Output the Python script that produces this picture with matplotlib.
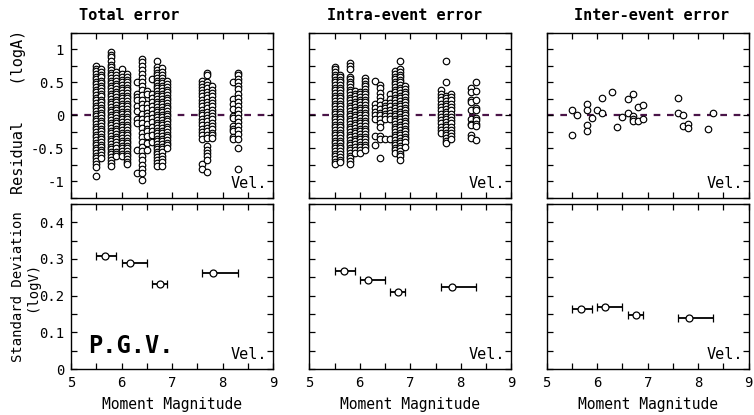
import numpy as np
import matplotlib.pyplot as plt
from matplotlib.ticker import MultipleLocator

plt.rcParams['font.family'] = ['DejaVu Sans Mono']

# event magnitudes (one column of residuals per event)
mags = [5.5, 5.6, 5.8, 5.9, 6.0, 6.1, 6.3, 6.4, 6.5, 6.6, 6.7, 6.8, 6.9, 7.6, 7.7, 7.8, 8.2, 8.3]

total_res = [
    [0.75, 0.71, 0.67, 0.63, 0.59, 0.55, 0.51, 0.47, 0.43, 0.39, 0.35, 0.31, 0.27, 0.23, 0.19, 0.15, 0.11, 0.07, 0.03,
     -0.01, -0.05, -0.09, -0.13, -0.17, -0.21, -0.25, -0.29, -0.33, -0.37, -0.41, -0.45, -0.49, -0.53, -0.57, -0.61,
     -0.65, -0.69, -0.73, -0.78, -0.91],
    [0.70, 0.66, 0.62, 0.58, 0.53, 0.49, 0.45, 0.41, 0.37, 0.33, 0.29, 0.24, 0.20, 0.16, 0.12, 0.08, 0.04, 0.0,
     -0.04, -0.08, -0.12, -0.16, -0.20, -0.24, -0.28, -0.32, -0.36, -0.40, -0.44, -0.48, -0.52, -0.56, -0.60, -0.64],
    [0.96, 0.92, 0.88, 0.82, 0.77, 0.73, 0.69, 0.65, 0.61, 0.57, 0.53, 0.49, 0.45, 0.41, 0.37, 0.33, 0.29, 0.25, 0.21,
     0.17, 0.13, 0.09, 0.05, 0.01, -0.03, -0.07, -0.11, -0.15, -0.19, -0.23, -0.27, -0.31, -0.35, -0.39, -0.43, -0.47,
     -0.51, -0.55, -0.59, -0.63, -0.67, -0.72, -0.76],
    [0.66, 0.61, 0.57, 0.52, 0.48, 0.44, 0.40, 0.36, 0.32, 0.28, 0.24, 0.20, 0.16, 0.12, 0.08, 0.04, 0.0, -0.04,
     -0.08, -0.12, -0.16, -0.20, -0.24, -0.28, -0.32, -0.36, -0.40, -0.45, -0.50, -0.55, -0.59, -0.62],
    [0.70, 0.63, 0.58, 0.54, 0.50, 0.46, 0.42, 0.38, 0.34, 0.30, 0.26, 0.22, 0.18, 0.14, 0.10, 0.06, 0.02, -0.02,
     -0.06, -0.10, -0.14, -0.18, -0.22, -0.26, -0.30, -0.34, -0.38, -0.42, -0.46, -0.50, -0.54, -0.58, -0.62],
    [0.63, 0.58, 0.54, 0.50, 0.46, 0.42, 0.38, 0.34, 0.30, 0.26, 0.22, 0.18, 0.14, 0.10, 0.06, 0.02, -0.02, -0.06,
     -0.10, -0.14, -0.18, -0.22, -0.26, -0.30, -0.34, -0.38, -0.42, -0.46, -0.50, -0.54, -0.58, -0.62, -0.66, -0.70,
     -0.74],
    [0.50, 0.32, 0.28, 0.24, 0.14, 0.07, -0.05, -0.12, -0.52, -0.87],
    [0.86, 0.81, 0.75, 0.69, 0.63, 0.57, 0.51, 0.45, 0.38, 0.31, 0.24, 0.18, 0.11, 0.03, -0.05, -0.12, -0.19, -0.26,
     -0.33, -0.40, -0.47, -0.54, -0.61, -0.68, -0.75, -0.81, -0.87, -0.98],
    [0.37, 0.32, 0.17, 0.12, 0.04, -0.01, -0.06, -0.13, -0.21, -0.24, -0.31, -0.41, -0.52],
    [0.55, 0.32, 0.26, 0.20, 0.14, 0.08, 0.02, -0.04, -0.10, -0.17, -0.23, -0.30, -0.40],
    [0.82, 0.74, 0.69, 0.65, 0.61, 0.57, 0.53, 0.49, 0.45, 0.41, 0.37, 0.33, 0.29, 0.25, 0.21, 0.17, 0.13, 0.09, 0.05,
     0.01, -0.03, -0.07, -0.11, -0.15, -0.19, -0.23, -0.27, -0.31, -0.35, -0.39, -0.43, -0.47, -0.51, -0.55, -0.59,
     -0.63, -0.67, -0.72, -0.76],
    [0.72, 0.66, 0.61, 0.57, 0.53, 0.49, 0.45, 0.41, 0.37, 0.33, 0.29, 0.25, 0.21, 0.17, 0.13, 0.09, 0.05, 0.01,
     -0.03, -0.07, -0.11, -0.15, -0.19, -0.23, -0.27, -0.31, -0.35, -0.39, -0.43, -0.47, -0.51, -0.56, -0.61, -0.66,
     -0.71, -0.76],
    [0.52, 0.47, 0.43, 0.39, 0.35, 0.31, 0.27, 0.23, 0.19, 0.15, 0.11, 0.07, 0.03, -0.01, -0.05, -0.09, -0.13, -0.17,
     -0.21, -0.25, -0.29, -0.33, -0.37, -0.41, -0.45, -0.49],
    [0.52, 0.48, 0.43, 0.39, 0.34, 0.29, 0.24, 0.19, 0.14, 0.09, 0.04, 0.0, -0.05, -0.10, -0.15, -0.20, -0.25, -0.30,
     -0.36, -0.73, -0.81],
    [0.65, 0.62, 0.50, 0.46, 0.41, 0.36, 0.31, 0.26, 0.21, 0.16, 0.11, 0.06, 0.01, -0.04, -0.09, -0.14, -0.19, -0.24,
     -0.29, -0.34, -0.46, -0.52, -0.57, -0.62, -0.68, -0.85],
    [0.44, 0.39, 0.34, 0.29, 0.24, 0.19, 0.14, 0.09, 0.04, -0.01, -0.06, -0.11, -0.16, -0.21, -0.26, -0.30, -0.34],
    [0.50, 0.25, 0.18, 0.10, -0.01, -0.04, -0.16, -0.20, -0.24, -0.32, -0.35],
    [0.65, 0.61, 0.55, 0.50, 0.45, 0.40, 0.33, 0.27, 0.21, 0.15, 0.08, 0.02, -0.04, -0.10, -0.16, -0.22, -0.28, -0.35,
     -0.50, -0.81],
]

intra_res = [
    [0.74, 0.70, 0.66, 0.62, 0.58, 0.54, 0.50, 0.46, 0.42, 0.38, 0.34, 0.30, 0.26, 0.22, 0.18, 0.14, 0.10, 0.06, 0.02,
     -0.02, -0.06, -0.10, -0.14, -0.18, -0.22, -0.26, -0.30, -0.34, -0.38, -0.42, -0.46, -0.50, -0.54, -0.58, -0.62,
     -0.66, -0.70, -0.73],
    [0.62, 0.58, 0.54, 0.50, 0.46, 0.42, 0.38, 0.34, 0.30, 0.26, 0.22, 0.18, 0.14, 0.10, 0.06, 0.02, -0.02, -0.06,
     -0.10, -0.14, -0.18, -0.22, -0.26, -0.30, -0.34, -0.38, -0.42, -0.46, -0.50, -0.54, -0.58, -0.63, -0.67, -0.71],
    [0.80, 0.75, 0.70, 0.59, 0.55, 0.51, 0.47, 0.43, 0.39, 0.35, 0.31, 0.27, 0.23, 0.19, 0.15, 0.11, 0.07, 0.03,
     -0.01, -0.05, -0.09, -0.13, -0.17, -0.21, -0.25, -0.29, -0.33, -0.37, -0.41, -0.45, -0.49, -0.53, -0.57, -0.61,
     -0.65, -0.69, -0.73],
    [0.37, 0.33, 0.29, 0.25, 0.21, 0.17, 0.13, 0.09, 0.05, 0.01, -0.03, -0.07, -0.11, -0.15, -0.19, -0.23, -0.27,
     -0.31, -0.35, -0.39, -0.43, -0.47, -0.52, -0.57],
    [0.36, 0.32, 0.28, 0.24, 0.20, 0.16, 0.12, 0.08, 0.04, 0.0, -0.04, -0.08, -0.12, -0.16, -0.20, -0.24, -0.28,
     -0.32, -0.36, -0.40, -0.44, -0.48, -0.53, -0.57],
    [0.57, 0.52, 0.48, 0.44, 0.40, 0.36, 0.32, 0.28, 0.24, 0.20, 0.16, 0.12, 0.08, 0.04, 0.0, -0.04, -0.08, -0.12,
     -0.16, -0.20, -0.24, -0.28, -0.32, -0.36, -0.40, -0.44, -0.48, -0.52],
    [0.53, 0.17, 0.12, 0.06, 0.01, -0.06, -0.31, -0.44],
    [0.46, 0.41, 0.34, 0.28, 0.22, 0.16, 0.10, 0.04, 0.0, -0.06, -0.12, -0.18, -0.31, -0.36, -0.65],
    [0.19, 0.15, 0.11, 0.07, 0.03, -0.01, -0.06, -0.36],
    [0.32, 0.25, 0.19, 0.14, 0.09, 0.04, -0.01, -0.05, -0.36],
    [0.67, 0.63, 0.59, 0.55, 0.51, 0.47, 0.43, 0.39, 0.35, 0.31, 0.27, 0.23, 0.19, 0.15, 0.11, 0.07, 0.03, -0.01,
     -0.05, -0.09, -0.13, -0.17, -0.21, -0.25, -0.29, -0.33, -0.37, -0.41, -0.45, -0.49, -0.53, -0.57],
    [0.82, 0.70, 0.66, 0.62, 0.58, 0.54, 0.50, 0.46, 0.42, 0.38, 0.34, 0.30, 0.26, 0.22, 0.18, 0.14, 0.10, 0.06, 0.02,
     -0.02, -0.06, -0.10, -0.14, -0.18, -0.22, -0.26, -0.30, -0.34, -0.38, -0.42, -0.46, -0.50, -0.54, -0.58, -0.62,
     -0.67],
    [0.44, 0.40, 0.36, 0.32, 0.28, 0.24, 0.20, 0.16, 0.12, 0.08, 0.04, 0.0, -0.04, -0.08, -0.12, -0.16, -0.20, -0.24,
     -0.28, -0.32, -0.36, -0.40, -0.47],
    [0.38, 0.33, 0.28, 0.23, 0.18, 0.13, 0.08, 0.03, -0.02, -0.07, -0.12, -0.17, -0.22, -0.26],
    [0.82, 0.51, 0.30, 0.26, 0.22, 0.18, 0.14, 0.10, 0.06, 0.02, -0.02, -0.06, -0.10, -0.14, -0.18, -0.22, -0.26,
     -0.30, -0.34, -0.38, -0.42],
    [0.33, 0.28, 0.23, 0.18, 0.13, 0.08, 0.03, -0.02, -0.07, -0.12, -0.17, -0.22, -0.27, -0.31, -0.35],
    [0.41, 0.35, 0.23, 0.20, 0.09, -0.05, -0.13, -0.15, -0.29, -0.34],
    [0.51, 0.37, 0.23, 0.11, 0.08, -0.04, -0.07, -0.13, -0.16, -0.37],
]

inter_mag = [5.5, 5.5, 5.6, 5.8, 5.8, 5.8, 5.8, 5.9, 6.0, 6.1, 6.1, 6.3, 6.4, 6.5, 6.6, 6.6, 6.7, 6.7, 6.7, 6.7,
             6.8, 6.8, 6.9, 6.9, 7.6, 7.6, 7.7, 7.7, 7.8, 7.8, 8.2, 8.3]
inter_res = [0.09, -0.29, 0.0, 0.18, 0.09, -0.15, -0.23, -0.04, 0.09, 0.26, 0.04, 0.35, -0.17, -0.03, 0.25, 0.04,
             0.33, -0.01, -0.05, -0.08, 0.13, -0.09, 0.16, -0.05, 0.27, 0.04, 0.0, -0.16, -0.13, -0.19, -0.21, 0.04]

# standard deviation per magnitude bin
sd_mag = [5.68, 6.16, 6.76, 7.82]
sd_lo = [5.5, 6.0, 6.6, 7.6]
sd_hi = [5.9, 6.5, 6.9, 8.3]
sd_total = [0.307, 0.290, 0.231, 0.262]
sd_intra = [0.267, 0.242, 0.210, 0.224]
sd_inter = [0.163, 0.170, 0.146, 0.140]

titles = ['Total error', 'Intra-event error', 'Inter-event error']
title_x = [0.04, 0.09, 0.135]

W, H = 754, 415
fig = plt.figure(figsize=(W / 100, H / 100), dpi=100)
lefts = [71, 309.3, 546.7]
aw, ah = 202, 165


def style(ax, ymaj, ymin):
    ax.set_xlim(5, 9)
    ax.xaxis.set_major_locator(MultipleLocator(1))
    ax.xaxis.set_minor_locator(MultipleLocator(0.5))
    ax.yaxis.set_major_locator(MultipleLocator(ymaj))
    ax.yaxis.set_minor_locator(MultipleLocator(ymin))
    ax.tick_params(which='both', direction='in', top=True, right=True, width=0.9, labelsize=10, pad=5)
    ax.tick_params(which='major', length=4.5)
    ax.tick_params(which='minor', length=4)
    for s in ax.spines.values():
        s.set_linewidth(1.0)


def fmt(v, pos):
    if abs(v) < 1e-9:
        return '0'
    return ('%g' % v)


tops, bots = [], []
for i in range(3):
    ax = fig.add_axes([lefts[i] / W, (H - 198) / H, aw / W, ah / H])
    style(ax, 0.5, 0.25)
    ax.set_ylim(-1.25, 1.25)
    ax.axhline(0, color='#4a1448', lw=1.6, ls=(0, (3, 3)), zorder=1)
    if i < 2:
        data = total_res if i == 0 else intra_res
        for m, col in zip(mags, data):
            ax.scatter([m] * len(col), col, s=22, facecolors='white', edgecolors='black', linewidths=0.85, zorder=3)
    else:
        ax.scatter(inter_mag, inter_res, s=22, facecolors='white', edgecolors='black', linewidths=0.85, zorder=3)
    ax.set_xticklabels([])
    if i == 0:
        ax.yaxis.set_major_formatter(plt.FuncFormatter(fmt))
        ax.set_ylabel('Residual    (logA)', fontsize=11)
        ax.yaxis.set_label_coords(-0.222, 0.52)
    else:
        ax.set_yticklabels([])
    ax.text(0.97, 0.04, 'Vel.', transform=ax.transAxes, ha='right', va='bottom', fontsize=11)
    ax.text(title_x[i], 1.06, titles[i], transform=ax.transAxes, ha='left', va='bottom',
            fontsize=11, fontweight='bold')
    tops.append(ax)

sds = [sd_total, sd_intra, sd_inter]
for i in range(3):
    ax = fig.add_axes([lefts[i] / W, (H - 369) / H, aw / W, ah / H])
    style(ax, 0.1, 0.05)
    ax.set_ylim(0, 0.45)
    xerr = [np.array(sd_mag) - np.array(sd_lo), np.array(sd_hi) - np.array(sd_mag)]
    ax.errorbar(sd_mag, sds[i], xerr=xerr, fmt='o', ms=5, mfc='white', mec='black', mew=0.9,
                ecolor='black', elinewidth=1.3, capsize=3, capthick=1.0, zorder=3)
    if i == 0:
        ax.yaxis.set_major_formatter(plt.FuncFormatter(fmt))
        ax.set_ylabel('Standard Deviation\n(logV)', fontsize=10, linespacing=0.95)
        ax.yaxis.set_label_coords(-0.16, 0.5)
        ax.text(0.085, 0.10, 'P.G.V.', transform=ax.transAxes, ha='left', va='baseline',
                fontsize=17, fontweight='bold')
    else:
        ax.set_yticklabels([])
    ax.set_xlabel('Moment Magnitude', fontsize=10.5, labelpad=5)
    ax.text(0.97, 0.04, 'Vel.', transform=ax.transAxes, ha='right', va='bottom', fontsize=11)
    bots.append(ax)

fig.savefig('out.png', dpi=100)
